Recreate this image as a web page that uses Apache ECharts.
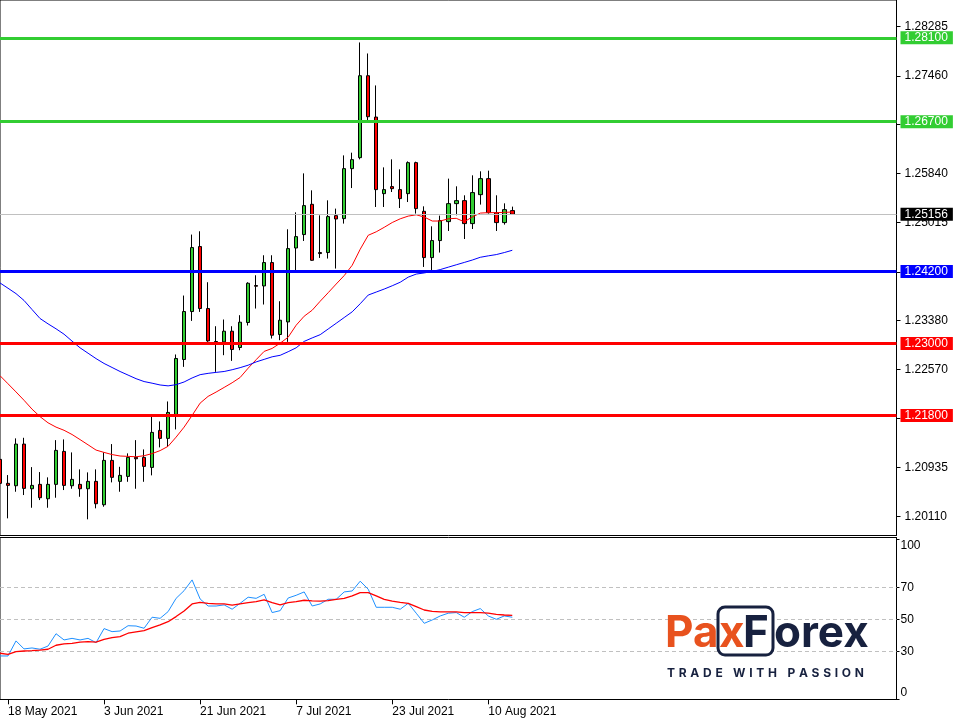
<!DOCTYPE html>
<html><head><meta charset="utf-8">
<script src="https://cdn.jsdelivr.net/npm/echarts@6/dist/echarts.min.js"></script>
<style>html,body{margin:0;padding:0;background:#fff}#c{width:959px;height:721px}</style>
</head><body><div id="c"></div>
<script>
const dates = ['17 May 2021','18 May 2021','19 May 2021','20 May 2021','21 May 2021','24 May 2021','25 May 2021','26 May 2021','27 May 2021','28 May 2021','31 May 2021',
'1 Jun 2021','2 Jun 2021','3 Jun 2021','4 Jun 2021','7 Jun 2021','8 Jun 2021','9 Jun 2021','10 Jun 2021','11 Jun 2021','14 Jun 2021','15 Jun 2021','16 Jun 2021','17 Jun 2021','18 Jun 2021','21 Jun 2021','22 Jun 2021','23 Jun 2021','24 Jun 2021','25 Jun 2021','28 Jun 2021','29 Jun 2021','30 Jun 2021',
'1 Jul 2021','2 Jul 2021','5 Jul 2021','6 Jul 2021','7 Jul 2021','8 Jul 2021','9 Jul 2021','12 Jul 2021','13 Jul 2021','14 Jul 2021','15 Jul 2021','16 Jul 2021','19 Jul 2021','20 Jul 2021','21 Jul 2021','22 Jul 2021','23 Jul 2021','26 Jul 2021','27 Jul 2021','28 Jul 2021','29 Jul 2021','30 Jul 2021',
'2 Aug 2021','3 Aug 2021','4 Aug 2021','5 Aug 2021','6 Aug 2021','9 Aug 2021','10 Aug 2021','11 Aug 2021','12 Aug 2021','13 Aug 2021'];

const opens = [1.21067,1.20667,1.20627,1.21322,1.20577,1.2065,1.2041,1.2065,1.212,1.20627,1.2065,1.20577,1.207,1.2031,1.2105,1.207,1.20783,1.211,1.211,1.20933,1.2155,1.21417,1.21817,1.22733,1.23533,1.24617,1.23583,1.23027,1.23027,1.23205,1.22933,1.2335,1.23967,1.2396,1.2435,1.2315,1.2336,1.24593,1.24817,1.25322,1.24517,1.24517,1.25133,1.25083,1.25917,1.261,1.27467,1.26777,1.255,1.25617,1.25567,1.255,1.26017,1.25205,1.24433,1.24717,1.25033,1.25333,1.25383,1.25,1.25483,1.2575,1.25183,1.25017,1.25217];
const closes = [1.20667,1.20633,1.21322,1.20583,1.20633,1.20427,1.2065,1.21217,1.20633,1.20733,1.20577,1.207,1.20327,1.2105,1.20767,1.208,1.211,1.21077,1.2095,1.21517,1.21417,1.2185,1.2275,1.23533,1.246,1.23583,1.23043,1.23033,1.23205,1.229,1.23355,1.24005,1.23955,1.2435,1.23138,1.23388,1.24583,1.24783,1.253,1.24388,1.245,1.25117,1.25077,1.25917,1.26067,1.27467,1.26783,1.25567,1.25567,1.25583,1.25417,1.26017,1.2525,1.24433,1.24717,1.2505,1.25333,1.25383,1.25,1.25517,1.2575,1.25183,1.25017,1.25233,1.25156];
const highs = [1.21138,1.20805,1.21417,1.21427,1.20938,1.20855,1.20767,1.21388,1.214,1.21183,1.209,1.2085,1.209,1.21183,1.21322,1.20943,1.21167,1.21388,1.21233,1.21777,1.217,1.22033,1.22817,1.238,1.24817,1.24872,1.24022,1.23288,1.234,1.23288,1.23472,1.24022,1.24138,1.24472,1.24472,1.23705,1.24905,1.25188,1.25838,1.25555,1.25138,1.25388,1.2525,1.26138,1.26183,1.28022,1.27838,1.27305,1.25938,1.26072,1.25905,1.26038,1.26033,1.25288,1.24955,1.25133,1.2575,1.25622,1.25472,1.25805,1.25872,1.25883,1.25472,1.25338,1.25283];
const lows = [1.20588,1.20083,1.20527,1.20472,1.2026,1.20388,1.2026,1.20427,1.20555,1.20577,1.20443,1.20067,1.2025,1.20277,1.20683,1.20527,1.20693,1.20577,1.20693,1.208,1.21267,1.21277,1.21567,1.2261,1.23377,1.23527,1.23027,1.22527,1.22805,1.2271,1.22888,1.233,1.23583,1.2365,1.23083,1.23055,1.23027,1.24222,1.2471,1.2438,1.24427,1.24417,1.2425,1.25,1.25593,1.26072,1.26722,1.25277,1.25277,1.25527,1.2526,1.2536,1.25167,1.24277,1.24222,1.24517,1.24877,1.25138,1.24743,1.2491,1.25317,1.25167,1.24877,1.24983,1.2515];

const maRed = [1.22463,1.22328,1.22192,1.22053,1.21905,1.2178,1.21677,1.21605,1.21552,1.21482,1.21397,1.2131,1.21222,1.21183,1.21147,1.21123,1.21117,1.2111,1.21128,1.21163,1.21213,1.21285,1.21438,1.21605,1.218,1.22005,1.22118,1.2219,1.22267,1.22345,1.22433,1.22588,1.2273,1.22868,1.22918,1.23005,1.23105,1.23305,1.23455,1.23555,1.23705,1.23847,1.23992,1.24133,1.24305,1.24572,1.24805,1.24863,1.24938,1.25018,1.2508,1.25125,1.25147,1.2511,1.25043,1.25043,1.2508,1.25088,1.2503,1.2511,1.25175,1.25183,1.25183,1.25188,1.25193];
const maBlue = [1.2401,1.23922,1.23832,1.23718,1.23567,1.23417,1.23328,1.23245,1.23155,1.2304,1.22928,1.22838,1.22748,1.22667,1.226,1.22533,1.22473,1.22413,1.22365,1.22338,1.22308,1.22293,1.22313,1.22358,1.22425,1.2248,1.22502,1.22518,1.22533,1.22562,1.22597,1.22638,1.22693,1.22735,1.22778,1.22803,1.22863,1.22928,1.23035,1.23093,1.23147,1.23242,1.23337,1.23433,1.23528,1.23663,1.23808,1.23858,1.23908,1.23963,1.24022,1.24107,1.24158,1.24177,1.24202,1.24233,1.24273,1.24313,1.24352,1.24392,1.24438,1.24462,1.24483,1.24517,1.24555];

const rsiBlue = [27.1,27.1,36.5,31.5,32.1,31.3,33.3,41,37.1,38.1,37.1,38.1,35.4,44.2,42.3,42.7,46,45.8,44.4,51.3,50.6,54.8,63.1,67.9,74.6,62.7,58.3,58.3,59,56.3,60,63.8,63.1,65.6,54.2,55.4,63.3,65,67.1,58.3,59.6,62.5,62.5,67.1,67.7,73.8,68.8,57.5,57.5,57.5,56.3,60,53.8,47.5,49.6,52.1,53.8,54.2,51.3,54.8,56.7,52.1,50,52.1,51.3];
const rsiRed = [28.8,28.1,29.8,30.2,30.4,30.8,31.3,33.8,34.6,35,35.8,36,35.8,37.5,38.5,39.2,41.3,42.1,42.9,44.8,46.5,48.5,51.7,55.2,59.6,60.6,60,59.6,59.6,58.8,59.6,60.4,61,62.1,60.4,59,60.4,61,61.9,61.5,61.3,61.7,62.5,63.1,64.6,66.7,66.7,64.6,62.5,61.3,60.6,60,57.9,55.8,55,54.6,54.6,54.6,54.2,54.2,54.2,53.8,53.1,52.7,52.5];

const levelValues = [1.281, 1.267, 1.242, 1.23, 1.218];
const levelColors = ['#32CD32', '#32CD32', '#0000FF', '#FF0000', '#FF0000'];
const lastPrice = 1.25156;

const priceTicks = [1.2011, 1.20935, 1.21745, 1.2257, 1.2338, 1.24195, 1.25015, 1.2584, 1.2665, 1.2746, 1.28285];
const priceLabels = [1.2011, 1.20935, 1.2257, 1.2338, 1.25015, 1.2584, 1.2746, 1.28285];
const rsiTicks = [0, 30, 50, 70, 100];
const rsiGuides = [30, 50, 70];
const dateLabels = ['18 May 2021', '3 Jun 2021', '21 Jun 2021', '7 Jul 2021', '23 Jul 2021', '10 Aug 2021'];

const FONT = 'Liberation Sans';
const ORANGE = '#E8521E';
const NAVY = '#17213F';
const SLOTS = 113;
const categories = dates.concat(Array.from({length: SLOTS - dates.length}, (_, k) => 'future' + k));
const candleData = dates.map((d, i) => [opens[i], closes[i], lows[i], highs[i]]);
const showDate = (idx) => dateLabels.indexOf(categories[idx]) >= 0;

// subtitle letters with tracking
const subtitle = 'TRADE WITH PASSION';
const subFont = 'bold 12px Inter';
const mctx = document.createElement('canvas').getContext('2d');
mctx.font = subFont;
const widths = subtitle.split('').map(ch => mctx.measureText(ch).width);
const totalW = widths.reduce((a, b) => a + b, 0);
const track = (197 - totalW) / (subtitle.length - 1);
const subEls = [];
let sx = 667;
subtitle.split('').forEach((ch, k) => {
  if (ch !== ' ') subEls.push({type: 'text', x: sx, y: 673, z: 20, style: {text: ch, fill: NAVY, font: subFont, align: 'left', verticalAlign: 'middle'}});
  sx += widths[k] + track;
});

const option = {
  animation: false,
  backgroundColor: '#fff',
  textStyle: {fontFamily: FONT},
  grid: [
    {left: -0.5, top: -0.5, width: 897, height: 536, show: true, borderColor: '#000', borderWidth: 1, backgroundColor: 'transparent'},
    {left: -0.5, top: 537.5, width: 897, height: 162, show: true, borderColor: '#000', borderWidth: 1, backgroundColor: 'transparent'}
  ],
  xAxis: [
    {gridIndex: 0, type: 'category', data: categories, boundaryGap: false, show: false},
    {gridIndex: 1, type: 'category', data: categories, boundaryGap: false,
     axisLine: {show: false},
     axisTick: {show: true, length: 5, interval: showDate, lineStyle: {color: '#000'}},
     axisLabel: {show: true, interval: showDate, align: 'left', margin: 6, color: '#000', fontSize: 12, fontFamily: FONT},
     splitLine: {show: false}}
  ],
  yAxis: [
    {gridIndex: 0, type: 'value', position: 'right', min: 1.19797, max: 1.2873,
     axisLine: {show: true, lineStyle: {color: '#000'}},
     axisTick: {show: true, length: 4, customValues: priceTicks, lineStyle: {color: '#000'}},
     axisLabel: {show: true, customValues: priceLabels, formatter: v => v.toFixed(5), color: '#000', fontSize: 12, fontFamily: FONT, margin: 8},
     splitLine: {show: false}},
    {gridIndex: 1, type: 'value', position: 'right', min: -0.1, max: 101.1,
     axisLine: {show: true, lineStyle: {color: '#000'}},
     axisTick: {show: true, length: 3, customValues: rsiTicks, lineStyle: {color: '#000'}},
     axisLabel: {show: true, customValues: rsiTicks, margin: 4, color: '#000', fontSize: 12, fontFamily: FONT,
       formatter: v => v === 100 ? '{t|100}' : (v === 0 ? '{b|0}' : String(v)),
       rich: {
         t: {padding: [13, 0, 0, 0], color: '#000', fontSize: 12, fontFamily: FONT},
         b: {padding: [0, 0, 13, 0], color: '#000', fontSize: 12, fontFamily: FONT}
       }},
     splitLine: {show: false}}
  ],
  series: [
    {type: 'candlestick', xAxisIndex: 0, yAxisIndex: 0, data: candleData, barWidth: 4,
     itemStyle: {color: '#32CD32', color0: '#FF0000', borderColor: '#000', borderColor0: '#000', borderColorDoji: '#000', borderWidth: 1},
     markLine: {
       symbol: ['none', 'none'], silent: true, animation: false, precision: 5,
       data: levelValues.map((v, k) => ({
         yAxis: v,
         lineStyle: {color: levelColors[k], width: 3, type: 'solid'},
         label: {show: true, position: 'end', distance: 4, formatter: v.toFixed(5), backgroundColor: levelColors[k], color: '#fff', padding: [1, 5, 0, 4], lineHeight: 12, fontSize: 12, fontFamily: FONT}
       })).concat([{
         yAxis: lastPrice,
         lineStyle: {color: '#C0C0C0', width: 1, type: 'solid'},
         label: {show: true, position: 'end', distance: 4, formatter: lastPrice.toFixed(5), backgroundColor: '#000', color: '#fff', padding: [1, 5, 0, 4], lineHeight: 12, fontSize: 12, fontFamily: FONT}
       }])
     }},
    {type: 'line', xAxisIndex: 0, yAxisIndex: 0, data: maRed, symbol: 'none', lineStyle: {color: '#FF0000', width: 1}, z: 3},
    {type: 'line', xAxisIndex: 0, yAxisIndex: 0, data: maBlue, symbol: 'none', lineStyle: {color: '#0000FF', width: 1}, z: 3},
    {type: 'line', xAxisIndex: 1, yAxisIndex: 1, data: rsiBlue, symbol: 'none', lineStyle: {color: '#1E90FF', width: 1}, z: 3,
     markLine: {symbol: ['none', 'none'], silent: true, animation: false, z: 1, precision: 2, label: {show: false},
       data: rsiGuides.map(v => ({yAxis: v, lineStyle: {color: '#C0C0C0', width: 1, type: [4, 3]}}))}},
    {type: 'line', xAxisIndex: 1, yAxisIndex: 1, data: rsiRed, symbol: 'none', lineStyle: {color: '#FF0000', width: 1.3}, z: 4}
  ],
  graphic: [
    {type: 'rect', z: 19, shape: {x: 718, y: 607, width: 55, height: 48, r: 7}, style: {fill: '#fff', stroke: NAVY, lineWidth: 3}},
    {type: 'text', x: 665, y: 634, z: 20, style: {text: 'Pa', fill: ORANGE, font: 'bold 44px Inter', align: 'left', verticalAlign: 'middle'}},
    {type: 'text', x: 719, y: 634, z: 20, style: {text: 'x', fill: ORANGE, font: 'bold 44px Inter', align: 'left', verticalAlign: 'middle'}},
    {type: 'text', x: 743, y: 634, z: 20, style: {text: 'F', fill: NAVY, font: 'bold 44px Inter', align: 'left', verticalAlign: 'middle'}},
    {type: 'text', x: 774, y: 634, z: 20, style: {text: 'orex', fill: NAVY, font: 'bold 44px Inter', align: 'left', verticalAlign: 'middle'}}
  ].concat(subEls)
};

const chart = echarts.init(document.getElementById('c'), null, {renderer: 'canvas'});
chart.setOption(option);
</script></body></html>
